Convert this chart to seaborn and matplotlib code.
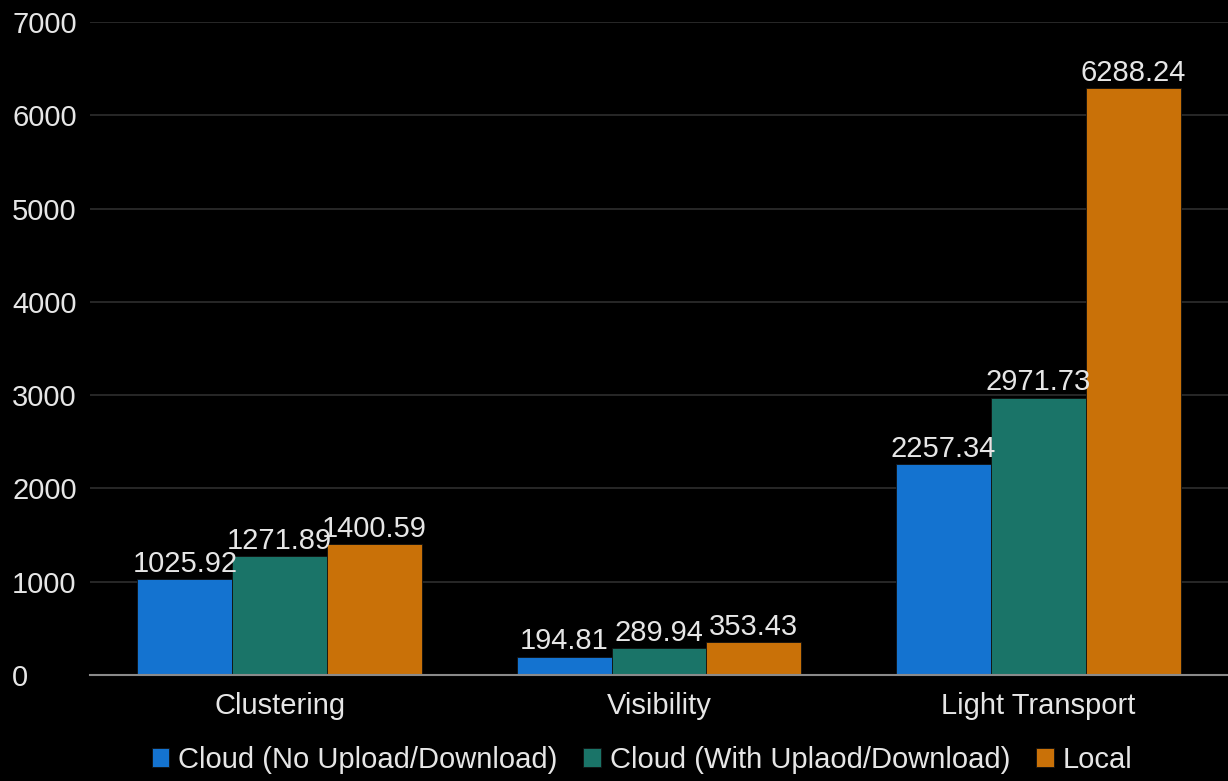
import matplotlib
matplotlib.use("Agg")
import matplotlib.pyplot as plt
import seaborn as sns
import pandas as pd

categories = ["Clustering", "Visibility", "Light Transport"]
series_names = ["Cloud (No Upload/Download)", "Cloud (With Uplaod/Download)", "Local"]
cloud_no_upload = [1025.92, 194.81, 2257.34]
cloud_with_upload = [1271.89, 289.94, 2971.73]
local = [1400.59, 353.43, 6288.24]
colors = ["#1473D0", "#1A7468", "#C97108"]

rows = []
for name, vals in zip(series_names, [cloud_no_upload, cloud_with_upload, local]):
    for c, v in zip(categories, vals):
        rows.append({"Category": c, "Series": name, "Value": v})
df = pd.DataFrame(rows)

sns.set_theme(style="dark")
plt.rcParams["font.family"] = ["Liberation Sans", "DejaVu Sans"]
txt = "#E6E6E6"
fs = 21

fig = plt.figure(figsize=(12.28, 7.81), dpi=100, facecolor="black")
ax = fig.add_axes([0.0733, 0.1357, 0.9267, 0.8361])
ax.set_facecolor("black")

sns.barplot(data=df, x="Category", y="Value", hue="Series", palette=colors,
            width=0.75, ax=ax, edgecolor="#111111", linewidth=0.6, saturation=1)

for cont in ax.containers:
    ax.bar_label(cont, fmt="%.2f", color=txt, fontsize=fs, padding=1)

ax.set_ylim(0, 7000)
ax.set_yticks(range(0, 7001, 1000))
ax.set_xlim(-0.5, 2.5)
ax.yaxis.grid(True, color="#2E2E2E", linewidth=1.2)
ax.xaxis.grid(False)
ax.set_axisbelow(True)
for s in ["top", "right", "left"]:
    ax.spines[s].set_visible(False)
ax.spines["bottom"].set_color("#8A8A8A")
ax.spines["bottom"].set_linewidth(1.5)
ax.tick_params(axis="both", colors=txt, labelsize=fs, length=0)
ax.tick_params(axis="y", pad=56)
ax.tick_params(axis="x", pad=12)
for lbl in ax.get_yticklabels():
    lbl.set_horizontalalignment("left")
ax.set_xlabel("")
ax.set_ylabel("")

leg = ax.legend(loc="upper center", bbox_to_anchor=(0.485, -0.086), ncol=3, frameon=False,
                fontsize=fs, handlelength=0.6, handleheight=0.6, handletextpad=0.3,
                columnspacing=0.9, labelcolor=txt, borderpad=0.0)

fig.savefig("out.png", dpi=100, facecolor="black")
